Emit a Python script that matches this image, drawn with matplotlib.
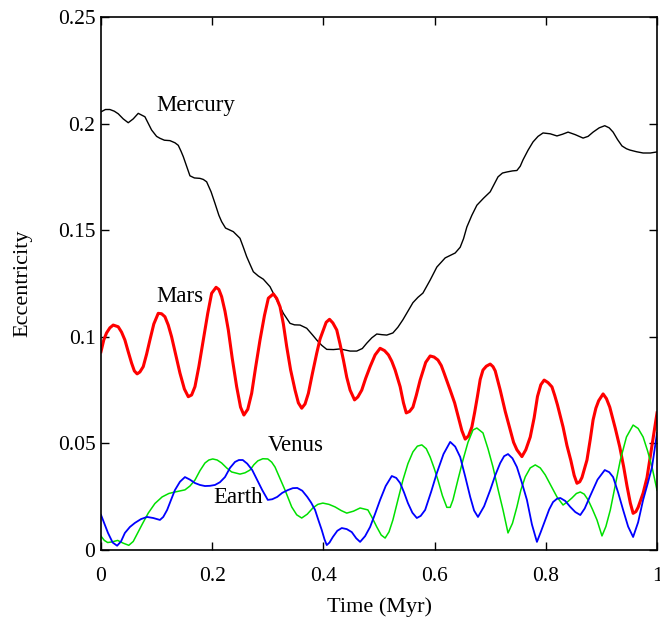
import matplotlib
matplotlib.use("Agg")
import matplotlib.pyplot as plt

plt.rcParams["font.family"] = ["Liberation Serif", "DejaVu Serif"]

# ── eccentricity histories (time in Myr) ─────────────────────────────────────
mercury_t = [0.0, 0.008, 0.016, 0.024, 0.031, 0.040, 0.049, 0.058, 0.067, 0.079,
             0.091, 0.100, 0.106, 0.114, 0.124, 0.133, 0.139, 0.144, 0.148, 0.154,
             0.160, 0.168, 0.178, 0.184, 0.190, 0.198, 0.205, 0.212, 0.217, 0.224,
             0.238, 0.250, 0.256, 0.262, 0.268, 0.274, 0.283, 0.292, 0.304, 0.316,
             0.328, 0.340, 0.348, 0.358, 0.370, 0.380, 0.388, 0.397, 0.406, 0.418,
             0.430, 0.448, 0.460, 0.470, 0.478, 0.487, 0.496, 0.505, 0.514, 0.525,
             0.534, 0.543, 0.552, 0.561, 0.570, 0.579, 0.592, 0.604, 0.619, 0.637,
             0.646, 0.652, 0.658, 0.667, 0.676, 0.688, 0.700, 0.707, 0.714, 0.722,
             0.730, 0.740, 0.748, 0.754, 0.759, 0.768, 0.777, 0.786, 0.795, 0.808,
             0.820, 0.830, 0.840, 0.853, 0.867, 0.876, 0.885, 0.896, 0.906, 0.914,
             0.921, 0.929, 0.937, 0.945, 0.951, 0.963, 0.975, 0.988, 1.0]
mercury_e = [0.2055, 0.2066, 0.2066, 0.2058, 0.2046, 0.2022, 0.2004, 0.2022, 0.2048, 0.2032,
             0.1970, 0.1940, 0.1931, 0.1922, 0.1920, 0.1910, 0.1898, 0.1870, 0.1845, 0.1800,
             0.1755, 0.1745, 0.1743, 0.1738, 0.1727, 0.1680, 0.1626, 0.1570, 0.1540, 0.1510,
             0.1493, 0.1462, 0.1420, 0.1376, 0.1340, 0.1305, 0.1285, 0.1270, 0.1235, 0.1173,
             0.1110, 0.1063, 0.1056, 0.1055, 0.1040, 0.1010, 0.0985, 0.0960, 0.0941, 0.0940,
             0.0943, 0.0933, 0.0933, 0.0945, 0.0970, 0.0995, 0.1013, 0.1010, 0.1008, 0.1018,
             0.1045, 0.1080, 0.1120, 0.1160, 0.1185, 0.1205, 0.1266, 0.1327, 0.1370, 0.1393,
             0.1420, 0.1460, 0.1515, 0.1570, 0.1617, 0.1650, 0.1680, 0.1715, 0.1750, 0.1768,
             0.1773, 0.1778, 0.1780, 0.1800, 0.1830, 0.1875, 0.1914, 0.1940, 0.1956, 0.1952,
             0.1942, 0.1950, 0.1960, 0.1948, 0.1932, 0.1940, 0.1960, 0.1980, 0.1990, 0.1980,
             0.1960, 0.1925, 0.1895, 0.1882, 0.1876, 0.1868, 0.1862, 0.1862, 0.1867]

mars_t = [0.0, 0.005, 0.010, 0.016, 0.022, 0.031, 0.037, 0.043, 0.049, 0.055,
          0.060, 0.065, 0.070, 0.076, 0.082, 0.088, 0.095, 0.103, 0.109, 0.115,
          0.121, 0.127, 0.134, 0.142, 0.150, 0.157, 0.163, 0.169, 0.176, 0.184,
          0.192, 0.199, 0.207, 0.212, 0.217, 0.223, 0.229, 0.236, 0.244, 0.251,
          0.257, 0.264, 0.271, 0.278, 0.286, 0.294, 0.301, 0.310, 0.316, 0.322,
          0.328, 0.334, 0.341, 0.349, 0.355, 0.361, 0.367, 0.373, 0.380, 0.388,
          0.394, 0.400, 0.405, 0.411, 0.417, 0.424, 0.430, 0.436, 0.442, 0.448,
          0.456, 0.462, 0.469, 0.476, 0.484, 0.493, 0.502, 0.510, 0.517, 0.523,
          0.529, 0.538, 0.544, 0.549, 0.555, 0.561, 0.567, 0.574, 0.584, 0.592,
          0.599, 0.606, 0.612, 0.617, 0.628, 0.636, 0.642, 0.649, 0.655, 0.661,
          0.667, 0.672, 0.677, 0.682, 0.687, 0.693, 0.700, 0.705, 0.709, 0.718,
          0.727, 0.736, 0.742, 0.748, 0.757, 0.764, 0.772, 0.779, 0.785, 0.791,
          0.797, 0.804, 0.811, 0.816, 0.821, 0.831, 0.838, 0.845, 0.851, 0.856,
          0.861, 0.865, 0.874, 0.880, 0.885, 0.890, 0.895, 0.903, 0.909, 0.915,
          0.925, 0.933, 0.940, 0.946, 0.952, 0.957, 0.962, 0.966, 0.975, 0.982,
          0.988, 0.994, 1.0]
mars_e = [0.0930, 0.0985, 0.1018, 0.1042, 0.1055, 0.1047, 0.1022, 0.0985, 0.0930, 0.0877,
          0.0840, 0.0826, 0.0835, 0.0860, 0.0918, 0.0985, 0.1060, 0.1110, 0.1108, 0.1094,
          0.1055, 0.1000, 0.0920, 0.0830, 0.0755, 0.0719, 0.0727, 0.0766, 0.0860, 0.0985,
          0.1110, 0.1204, 0.1232, 0.1222, 0.1188, 0.1120, 0.1032, 0.0900, 0.0766, 0.0670,
          0.0633, 0.0660, 0.0735, 0.0855, 0.0985, 0.1100, 0.1181, 0.1201, 0.1180, 0.1141,
          0.1060, 0.0954, 0.0845, 0.0750, 0.0690, 0.0665, 0.0685, 0.0735, 0.0825, 0.0923,
          0.0990, 0.1032, 0.1068, 0.1082, 0.1065, 0.1032, 0.0965, 0.0891, 0.0810, 0.0750,
          0.0704, 0.0718, 0.0750, 0.0805, 0.0860, 0.0915, 0.0946, 0.0935, 0.0915, 0.0885,
          0.0844, 0.0766, 0.0690, 0.0643, 0.0650, 0.0670, 0.0725, 0.0797, 0.0880, 0.0910,
          0.0905, 0.0891, 0.0865, 0.0830, 0.0750, 0.0690, 0.0630, 0.0560, 0.0520, 0.0535,
          0.0577, 0.0645, 0.0720, 0.0800, 0.0844, 0.0862, 0.0872, 0.0860, 0.0840, 0.0750,
          0.0650, 0.0563, 0.0505, 0.0470, 0.0438, 0.0470, 0.0530, 0.0620, 0.0720, 0.0775,
          0.0797, 0.0785, 0.0765, 0.0725, 0.0680, 0.0577, 0.0490, 0.0420, 0.0350, 0.0313,
          0.0320, 0.0340, 0.0422, 0.0520, 0.0610, 0.0665, 0.0700, 0.0732, 0.0710, 0.0670,
          0.0570, 0.0483, 0.0390, 0.0300, 0.0220, 0.0172, 0.0180, 0.0200, 0.0267, 0.0340,
          0.0440, 0.0540, 0.0643]

venus_t = [0.0, 0.006, 0.012, 0.02, 0.03, 0.04, 0.05, 0.058, 0.066, 0.075,
           0.085, 0.097, 0.110, 0.122, 0.133, 0.151, 0.160, 0.169, 0.178, 0.187,
           0.194, 0.201, 0.209, 0.217, 0.226, 0.235, 0.250, 0.259, 0.268, 0.275,
           0.282, 0.291, 0.300, 0.307, 0.313, 0.322, 0.331, 0.343, 0.352, 0.361,
           0.371, 0.381, 0.390, 0.399, 0.410, 0.421, 0.432, 0.442, 0.454, 0.466,
           0.480, 0.488, 0.496, 0.504, 0.511, 0.518, 0.525, 0.534, 0.543, 0.552,
           0.561, 0.569, 0.577, 0.585, 0.592, 0.599, 0.606, 0.614, 0.622, 0.628,
           0.633, 0.642, 0.651, 0.660, 0.669, 0.676, 0.687, 0.696, 0.705, 0.714,
           0.723, 0.732, 0.740, 0.748, 0.755, 0.763, 0.772, 0.781, 0.790, 0.799,
           0.810, 0.820, 0.831, 0.840, 0.847, 0.855, 0.862, 0.869, 0.876, 0.884,
           0.892, 0.901, 0.908, 0.916, 0.925, 0.934, 0.945, 0.957, 0.966, 0.975,
           0.983, 0.991, 1.0]
venus_e = [0.0065, 0.0045, 0.0035, 0.0038, 0.0045, 0.0032, 0.0022, 0.0040, 0.0080, 0.0125,
           0.0173, 0.0218, 0.0249, 0.0265, 0.0272, 0.0282, 0.0300, 0.0328, 0.0372, 0.0408,
           0.0422, 0.0427, 0.0422, 0.0408, 0.0385, 0.0366, 0.0356, 0.0362, 0.0375, 0.0400,
           0.0418, 0.0428, 0.0427, 0.0412, 0.0389, 0.0335, 0.0281, 0.0202, 0.0165, 0.0150,
           0.0168, 0.0197, 0.0214, 0.0220, 0.0214, 0.0202, 0.0185, 0.0173, 0.0182, 0.0197,
           0.0188, 0.0150, 0.0108, 0.0070, 0.0056, 0.0085, 0.0141, 0.0235, 0.0328, 0.0405,
           0.0460, 0.0487, 0.0493, 0.0475, 0.0436, 0.0385, 0.0328, 0.0255, 0.0200, 0.0200,
           0.0235, 0.0330, 0.0422, 0.0505, 0.0563, 0.0572, 0.0549, 0.0475, 0.0389, 0.0285,
           0.0188, 0.0080, 0.0125, 0.0202, 0.0280, 0.0343, 0.0385, 0.0399, 0.0385, 0.0352,
           0.0298, 0.0249, 0.0211, 0.0228, 0.0244, 0.0265, 0.0272, 0.0262, 0.0235, 0.0190,
           0.0141, 0.0066, 0.0110, 0.0188, 0.0305, 0.0422, 0.0530, 0.0586, 0.0570, 0.0530,
           0.0465, 0.0389, 0.0280]

earth_t = [0.0, 0.0126, 0.021, 0.029, 0.036, 0.043, 0.052, 0.061, 0.072, 0.083,
           0.094, 0.106, 0.112, 0.119, 0.126, 0.133, 0.142, 0.151, 0.160, 0.169,
           0.178, 0.187, 0.196, 0.205, 0.214, 0.223, 0.232, 0.241, 0.248, 0.255,
           0.263, 0.272, 0.281, 0.290, 0.300, 0.308, 0.317, 0.326, 0.336, 0.345,
           0.353, 0.362, 0.371, 0.378, 0.385, 0.391, 0.397, 0.402, 0.406, 0.411,
           0.417, 0.425, 0.433, 0.442, 0.451, 0.459, 0.466, 0.475, 0.484, 0.493,
           0.502, 0.512, 0.523, 0.531, 0.538, 0.545, 0.552, 0.560, 0.568, 0.575,
           0.583, 0.594, 0.604, 0.616, 0.628, 0.637, 0.646, 0.655, 0.664, 0.671,
           0.678, 0.689, 0.700, 0.709, 0.718, 0.725, 0.732, 0.740, 0.748, 0.757,
           0.766, 0.775, 0.784, 0.791, 0.799, 0.806, 0.813, 0.820, 0.826, 0.835,
           0.844, 0.853, 0.862, 0.870, 0.879, 0.893, 0.906, 0.914, 0.921, 0.930,
           0.939, 0.948, 0.957, 0.966, 0.975, 0.983, 0.991, 1.0]
earth_e = [0.0165, 0.0080, 0.0035, 0.0020, 0.0040, 0.0080, 0.0108, 0.0127, 0.0145, 0.0155,
           0.0150, 0.0141, 0.0155, 0.0188, 0.0235, 0.0281, 0.0320, 0.0342, 0.0330, 0.0314,
           0.0305, 0.0300, 0.0301, 0.0305, 0.0318, 0.0342, 0.0385, 0.0413, 0.0422, 0.0422,
           0.0405, 0.0375, 0.0328, 0.0281, 0.0235, 0.0238, 0.0249, 0.0268, 0.0281, 0.0290,
           0.0291, 0.0278, 0.0249, 0.0222, 0.0188, 0.0140, 0.0094, 0.0050, 0.0023, 0.0035,
           0.0061, 0.0090, 0.0103, 0.0098, 0.0084, 0.0055, 0.0038, 0.0065, 0.0108, 0.0170,
           0.0235, 0.0300, 0.0347, 0.0338, 0.0314, 0.0270, 0.0220, 0.0175, 0.0150, 0.0160,
           0.0188, 0.0275, 0.0361, 0.0450, 0.0507, 0.0485, 0.0436, 0.0345, 0.0249, 0.0185,
           0.0155, 0.0205, 0.0281, 0.0350, 0.0408, 0.0440, 0.0450, 0.0430, 0.0389, 0.0315,
           0.0235, 0.0120, 0.0038, 0.0085, 0.0141, 0.0190, 0.0225, 0.0240, 0.0244, 0.0230,
           0.0202, 0.0178, 0.0164, 0.0195, 0.0249, 0.0330, 0.0375, 0.0365, 0.0342, 0.0270,
           0.0188, 0.0110, 0.0061, 0.0130, 0.0235, 0.0310, 0.0389, 0.0549]

x_ticks = [0, 0.2, 0.4, 0.6, 0.8, 1]
x_labels = ["0", "0.2", "0.4", "0.6", "0.8", "1"]
y_ticks = [0, 0.05, 0.1, 0.15, 0.2, 0.25]
y_labels = ["0", "0.05", "0.1", "0.15", "0.2", "0.25"]

# ── figure ───────────────────────────────────────────────────────────────────
fig = plt.figure(figsize=(6.6, 6.24), dpi=100)
ax = fig.add_axes([0.153, 0.1186, 0.8425, 0.8542])

ax.plot(mercury_t, mercury_e, color="black", lw=1.0)
ax.plot(mars_t, mars_e, color="#ff0000", lw=2.2)
ax.plot(venus_t, venus_e, color="#00e000", lw=1.1)
ax.plot(earth_t, earth_e, color="#0000ff", lw=1.3)

ax.text(0.1, 0.2085, "Mercury", fontsize=16.5, va="center", ha="left")
ax.text(0.1, 0.1187, "Mars", fontsize=16.5, va="center", ha="left")
ax.text(0.30, 0.0492, "Venus", fontsize=16.5, va="center", ha="left")
ax.text(0.2015, 0.0244, "Earth", fontsize=16.5, va="center", ha="left")

ax.set_xlim(0, 1)
ax.set_ylim(0, 0.25)
ax.set_xticks(x_ticks)
ax.set_xticklabels(x_labels)
ax.set_yticks(y_ticks)
ax.set_yticklabels(y_labels)
ax.tick_params(direction="in", length=6, width=1.0, top=True, right=True,
               labelsize=15.5)
ax.tick_params(axis="x", pad=12)
ax.tick_params(axis="y", pad=4)
for s in ax.spines.values():
    s.set_linewidth(1.2)

ax.set_xlabel("Time (Myr)", fontsize=16, labelpad=8)
ax.set_ylabel("Eccentricity", fontsize=16, labelpad=18)

fig.savefig("out.png", dpi=100)
